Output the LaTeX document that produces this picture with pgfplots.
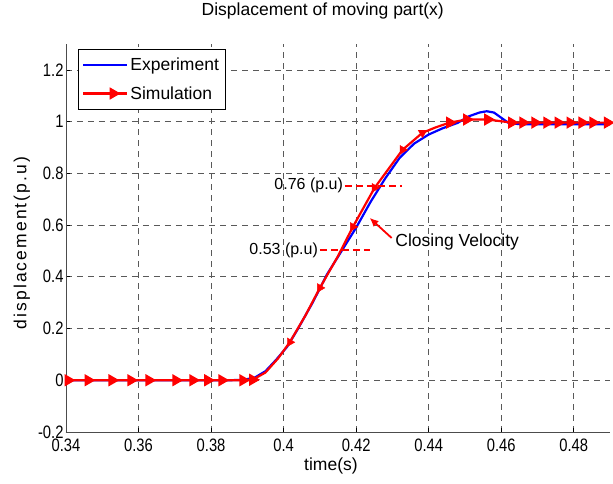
\documentclass[border=0pt]{standalone}
\usepackage{graphicx}
\usepackage{pgfplots}
\pgfplotsset{compat=1.18}
\usepackage{fontspec}
\setmainfont{Liberation Sans}
\newfontfamily\spaced[LetterSpace=12]{Liberation Sans}
\usetikzlibrary{arrows.meta}
\newcommand\nar[1]{\scalebox{0.82}[1]{#1}}
\begin{document}
\begin{tikzpicture}
\begin{axis}[
  width=544pt, height=388pt, scale only axis,
  xmin=0.34, xmax=0.49, ymin=-0.2, ymax=1.3,
  xtick={0.34,0.36,0.38,0.40,0.42,0.44,0.46,0.48},
  xticklabels={\nar{0.34},\nar{0.36},\nar{0.38},\nar{0.4},\nar{0.42},\nar{0.44},\nar{0.46},\nar{0.48}},
  ytick={-0.2,0,0.2,0.4,0.6,0.8,1,1.2},
  yticklabels={\nar{-0.2},\nar{0},\nar{0.2},\nar{0.4},\nar{0.6},\nar{0.8},\nar{1},\nar{1.2}},
  axis x line*=bottom, axis y line*=left,
  axis line style={-, black!70, line width=0.8pt},
  tick style={black, line width=0.6pt},
  major tick length=4pt,
  tick label style={font=\fontsize{18}{20}\selectfont},
  yticklabel style={xshift=1pt},
  xticklabel style={yshift=-3pt},
  grid=major,
  major grid style={dash pattern=on 6pt off 5pt, black!65, line width=0.7pt},
  title={Displacement of moving part(x)},
  title style={font=\fontsize{17.5}{20}\selectfont, at={(rel axis cs:0.472,1.0696)}, anchor=center},
  xlabel={time(s)},
  xlabel style={font=\fontsize{17.5}{20}\selectfont, at={(rel axis cs:0.487,-0.0876)}, anchor=center},
  ylabel={displacement(p.u)},
  ylabel style={font=\fontsize{17.5}{20}\selectfont\spaced, at={(rel axis cs:-0.081,0.487)}, anchor=center},
  legend style={at={(rel axis cs:0.022,0.987)}, anchor=north west, draw=black, fill=white,
    font=\fontsize{17.5}{20}\selectfont, inner xsep=4pt, inner ysep=7pt, row sep=10pt},
  legend cell align=left,
  legend image code/.code={\draw[#1, mark indices={2}] plot coordinates {(0pt,0pt) (30pt,0pt) (44pt,0pt)};},
]
\addplot[blue, line width=2.2pt] coordinates {
(0.340,0) (0.385,0) (0.389,0.002) (0.392,0.01) (0.395,0.035) (0.398,0.08)
(0.401,0.13) (0.404,0.2) (0.408,0.3) (0.412,0.41) (0.416,0.50) (0.420,0.59)
(0.424,0.69) (0.428,0.78) (0.432,0.86) (0.436,0.915) (0.440,0.95) (0.444,0.975)
(0.448,0.995) (0.451,1.02) (0.454,1.035) (0.456,1.04) (0.458,1.035) (0.460,1.015)
(0.462,0.995) (0.465,0.99) (0.490,0.99)};
\addlegendentry{Experiment}
\addplot[red, line width=2.2pt, mark=triangle*, mark size=5pt,
  mark options={rotate=-90, solid, fill=red, draw=red},
  mark indices={1,2,3,4,5,6,7,8,9,10,11,23,24,25,26,27,28,29,30,31,32,33,34}] coordinates {
(0.3406,0) (0.3461,0) (0.3527,0) (0.3579,0) (0.3629,0) (0.3703,0) (0.3750,0)
(0.3791,0) (0.3830,0) (0.3888,0) (0.3915,0.002)
(0.3950,0.03) (0.3985,0.085) (0.4017,0.147) (0.4060,0.25) (0.4100,0.357)
(0.4150,0.48) (0.4191,0.593) (0.4251,0.744) (0.4328,0.891) (0.4383,0.957)
(0.4420,0.978)
(0.4458,0.996) (0.4505,1.008) (0.4563,1.008) (0.4629,0.996) (0.4660,0.996)
(0.4693,0.996) (0.4726,0.996) (0.4757,0.996) (0.4790,0.996) (0.4823,0.996)
(0.4853,0.996) (0.4893,0.996) (0.4900,0.996)};
\addlegendentry{Simulation}
\addplot[only marks, red, mark=triangle*, mark size=5pt, forget plot,
  mark options={rotate=150, fill=red, draw=red}] coordinates {
(0.4017,0.147) (0.4100,0.357) (0.4191,0.593) (0.4251,0.744) (0.4328,0.891)};
\addplot[only marks, red, mark=triangle*, mark size=5pt, forget plot,
  mark options={rotate=-60, fill=red, draw=red}] coordinates {(0.4383,0.957)};
\draw[red, line width=2pt, dash pattern=on 7pt off 4pt] (axis cs:0.4169,0.752) -- (axis cs:0.4326,0.752);
\node[anchor=east, inner sep=1pt, font=\fontsize{16}{18}\selectfont] at (axis cs:0.4167,0.752) {0.76 (p.u)};
\draw[red, line width=2pt, dash pattern=on 7pt off 4pt] (axis cs:0.4100,0.504) -- (axis cs:0.4237,0.504);
\node[anchor=east, inner sep=1pt, font=\fontsize{16}{18}\selectfont] at (axis cs:0.4098,0.504) {0.53 (p.u)};
\draw[red, line width=1.8pt, -{Latex[length=9pt,width=8pt]}] (axis cs:0.4298,0.550) -- (axis cs:0.4237,0.628);
\node[anchor=west, inner sep=1pt, font=\fontsize{17.5}{20}\selectfont] at (axis cs:0.4305,0.535) {Closing Velocity};
\end{axis}
\pgfresetboundingbox
\path ([shift={(-66pt,-52pt)}]current axis.south west) rectangle ([shift={(3pt,44pt)}]current axis.north east);
\end{tikzpicture}
\end{document}
